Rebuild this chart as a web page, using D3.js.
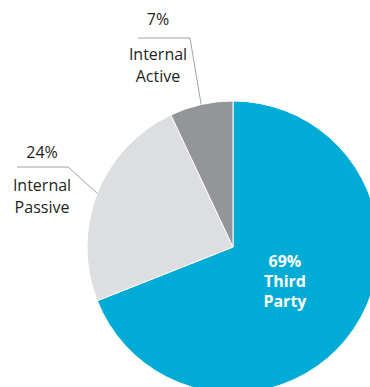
<!DOCTYPE html>
<html>
<head>
<meta charset="utf-8">
<script src="https://cdn.jsdelivr.net/npm/d3@7"></script>
<style>
  html, body { margin: 0; padding: 0; background: #fff; }
  svg { display: block; }
  text { font-family: "Open Sans", "Noto Sans", sans-serif; }
</style>
</head>
<body>
<svg id="chart" width="370" height="387"></svg>
<script>
// Share of sources, in drawing order (clockwise from 12 o'clock)
const categories = ["Third Party", "Internal Passive", "Internal Active"];
const shares = [69, 24, 7];
const sliceColors = ["#00abd6", "#dddee0", "#939598"];

const svg = d3.select("#chart");
const cx = 233, cy = 247, radius = 146;

const pie = d3.pie().sort(null).value(d => d.value);
const arcs = pie(categories.map((c, i) => ({ name: c, value: shares[i] })));
const arc = d3.arc().innerRadius(0).outerRadius(radius);

const g = svg.append("g").attr("transform", `translate(${cx},${cy})`);

g.selectAll("path.slice")
  .data(arcs)
  .join("path")
  .attr("class", "slice")
  .attr("d", arc)
  .attr("fill", (d, i) => sliceColors[i])
  .attr("stroke", "#fff")
  .attr("stroke-width", 1);

// Inside label for the largest slice
const inner = arcs[0];
const [ix, iy] = d3.arc().innerRadius(0).outerRadius(radius * 0.86).centroid(inner);
const insideLines = [`${shares[0]}%`, "Third", "Party"];
g.append("text")
  .attr("text-anchor", "middle")
  .attr("fill", "#fff")
  .attr("font-weight", "bold")
  .attr("font-size", 16)
  .selectAll("tspan")
  .data(insideLines)
  .join("tspan")
  .attr("x", ix)
  .attr("y", (d, i) => iy + 5 + (i - 1) * 20)
  .text(d => d);

// Outside labels with leader lines
const outside = [
  { idx: 2, textX: 158, pctY: 25, lineY: 38, lineX0: 138, lineX1: 190, nameY: 60, names: ["Internal", "Active"] },
  { idx: 1, textX: 42, pctY: 158, lineY: 167, lineX0: 17, lineX1: 68, nameY: 191, names: ["Internal", "Passive"] }
];

outside.forEach(o => {
  const a = arcs[o.idx];
  const pt = d3.arc().innerRadius(radius).outerRadius(radius).centroid(a);
  const ex = cx + pt[0], ey = cy + pt[1];
  svg.append("polyline")
    .attr("points", `${o.lineX0},${o.lineY} ${o.lineX1},${o.lineY} ${ex},${ey}`)
    .attr("fill", "none")
    .attr("stroke", "#8a8a8c")
    .attr("stroke-width", 0.8);
  svg.append("text")
    .attr("x", o.textX).attr("y", o.pctY)
    .attr("text-anchor", "middle")
    .attr("font-size", 16)
    .attr("fill", "#231f20")
    .text(`${shares[o.idx]}%`);
  svg.append("text")
    .attr("text-anchor", "middle")
    .attr("font-size", 16)
    .attr("fill", "#231f20")
    .selectAll("tspan")
    .data(o.names)
    .join("tspan")
    .attr("x", o.textX)
    .attr("y", (d, i) => o.nameY + i * 21.5)
    .text(d => d);
});
</script>
</body>
</html>
